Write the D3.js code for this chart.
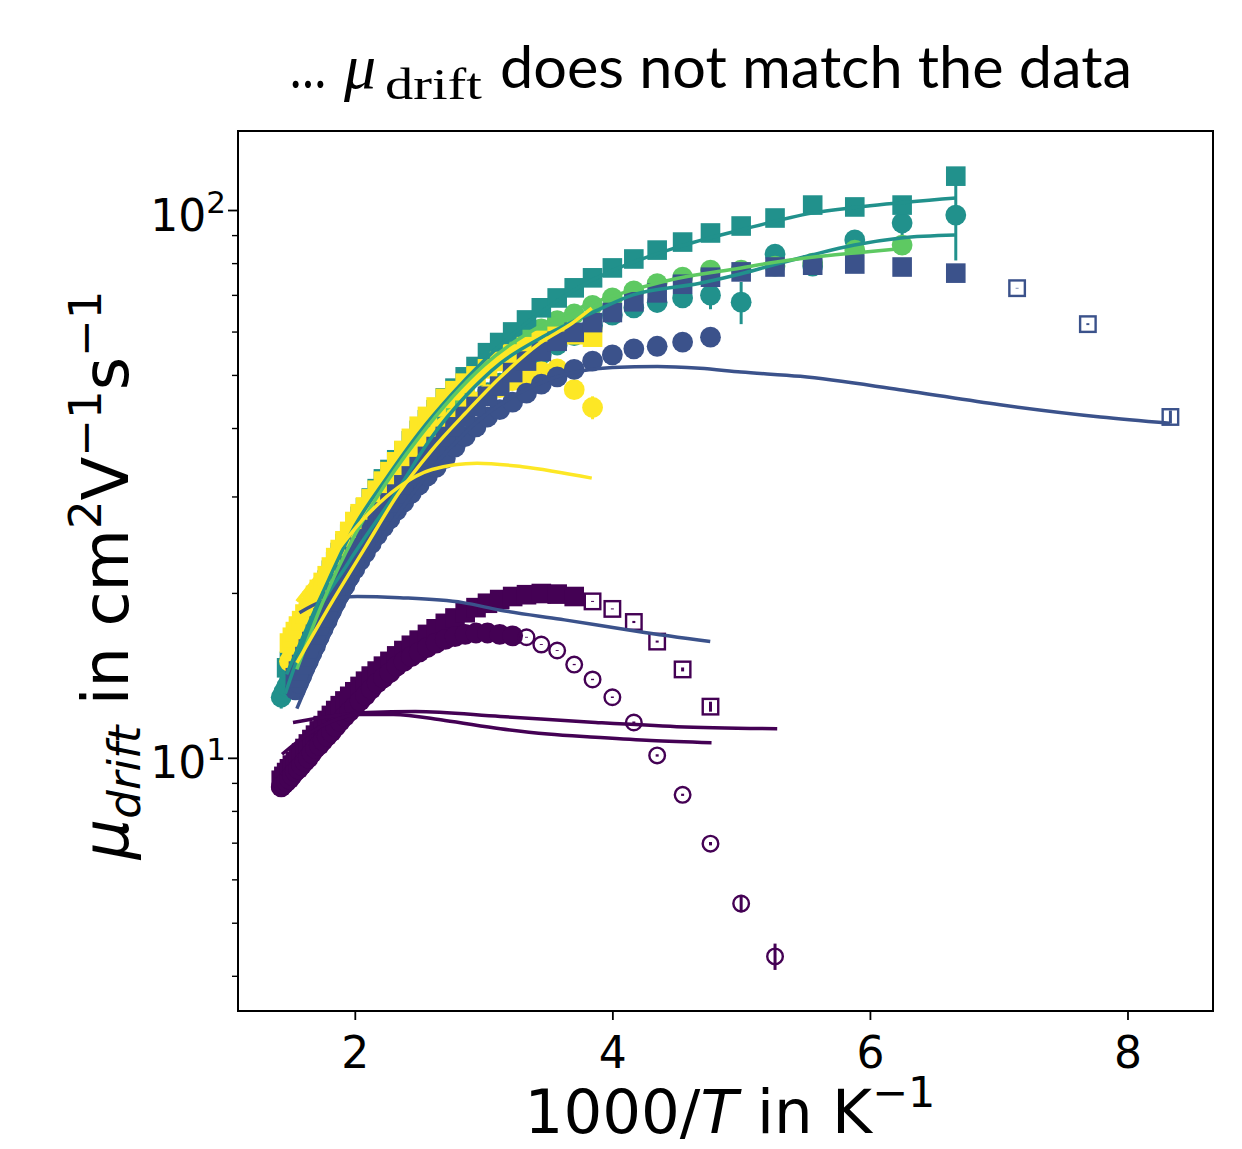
<!DOCTYPE html>
<html>
<head lang="en">
  <meta charset="UTF-8">
  <title>mu drift vs 1000/T</title>
  <script src="https://cdnjs.cloudflare.com/ajax/libs/d3/7.8.5/d3.min.js"></script>
</head>
<style>
  body { margin: 0; background: #fff; }
  #chart text { font-family: "DejaVu Sans", sans-serif; fill: #000; }
  #chart .tick line { stroke: #000; }
</style>
<body>

<svg id="chart" width="1242" height="1149"></svg>

<script>
  // temperatures in K, mobility in cm2/Vs
  var purpleSqT = [700,690,680,670,660,650,640,630,620,610,600,590,580,570,560,550,540,530,520,510,500,490,480,470,460,450,440,430,420,410,400,390,380,370,360,350,340,330,320,310,300,290,280,270];
  var purpleSqMu = [9.1,9.25,9.4,9.55,9.7,9.85,10.05,10.2,10.4,10.6,10.8,11.0,11.2,11.45,11.7,11.95,12.2,12.45,12.7,12.95,13.2,13.5,13.8,14.1,14.4,14.7,15.0,15.35,15.7,16.05,16.4,16.8,17.2,17.6,18.0,18.4,18.8,19.15,19.45,19.7,19.85,19.95,19.9,19.7];
  var purpleSqOpenT = [260,250,240,230,220,210];
  var purpleSqOpenMu = [19.3,18.7,17.7,16.3,14.5,12.4];
  var purpleSqOpenErr = [0.04,0.04,0.08,0.07,0.12,0.26];

  var purpleCircT = [700,690,680,670,660,650,640,630,620,610,600,590,580,570,560,550,540,530,520,510,500,490,480,470,460,450,440,430,420,410,400,390,380,370,360,350,340,330,320,310];
  var purpleCircMu = [8.85,8.95,9.05,9.15,9.3,9.45,9.55,9.7,9.85,10.0,10.2,10.4,10.55,10.75,10.95,11.15,11.4,11.65,11.9,12.15,12.4,12.7,13.0,13.35,13.7,14.0,14.3,14.7,15.0,15.3,15.6,15.9,16.2,16.45,16.65,16.8,16.9,16.9,16.8,16.7];
  var purpleCircOpenT = [300,290,280,270,260,250,240,230,220,210,200,190];
  var purpleCircOpenMu = [16.6,16.1,15.7,14.8,13.9,12.9,11.6,10.1,8.56,6.97,5.42,4.34];
  var purpleCircOpenErr = [0.03,0.03,0.03,0.04,0.04,0.04,0.05,0.05,0.04,0.05,0.2,0.24];

  var blueCircT = [650,640,630,620,610,600,590,580,570,560,550,540,530,520,510,500,490,480,470,460,450,440,430,420,410,400,390,380,370,360,350,340,330,320,310,300,290,280,270,260,250,240,230,220,210];
  var blueCircMu = [13.3,13.7,14.1,14.6,15.0,15.5,16.0,16.6,17.2,17.8,18.5,19.2,19.9,20.6,21.4,22.1,22.9,23.7,24.6,25.5,26.4,27.3,28.3,29.3,30.4,31.5,32.7,33.9,35.2,36.9,38.6,40.2,41.9,43.2,44.6,46.3,48.1,49.6,51.2,53.0,54.4,55.8,56.4,57.4,58.6];

  var blueSqT = [650,640,630,620,610,600,590,580,570,560,550,540,530,520,510,500,490,480,470,460,450,440,430,420,410,400,390,380,370,360,350,340,330,320,310,300,290,280,270,260,250,240,230,220,210,200,190,180,170,160,150];
  var blueSqMu = [14.0,14.4,14.8,15.3,15.8,16.3,16.8,17.4,18.0,18.6,19.3,20.0,20.8,21.6,22.4,23.3,24.2,25.1,26.1,27.1,28.1,29.2,30.3,31.5,32.7,34.0,35.5,37.0,38.6,40.2,42.0,43.8,45.7,47.7,50.5,53.0,55.2,57.6,59.8,62.3,65.0,68.0,70.6,73.2,75.4,77.1,78.7,79.3,79.7,78.7,76.7];
  var blueSqOpenT = [140,130,120];
  var blueSqOpenMu = [72.0,61.9,41.9];
  var blueSqOpenErr = [0.1,0.25,1.15];

  var tealSqT = [680,670,660,650,640,630,620,610,600,590,580,570,560,550,540,530,520,510,500,490,480,470,460,450,440,430,420,410,400,390,380,370,360,350,340,330,320,310,300,290,280,270,260,250,240,230,220,210,200,190,180,170,160,150];
  var tealSqMu = [14.6,15.0,15.4,15.8,16.3,16.8,17.3,17.8,18.4,19.0,19.6,20.3,21.1,22.0,22.8,23.7,24.6,25.6,26.6,27.6,28.6,29.8,31.0,32.3,33.6,35.0,36.3,37.9,39.6,41.4,43.2,45.4,47.3,49.6,51.8,54.9,57.3,59.9,63.0,66.3,69.1,72.1,75.2,78.4,81.4,84.5,87.4,90.8,93.5,96.7,102.1,101.3,102.1,115.3];

  var tealCircT = [700,690,680,670,660,650,640,630,620,610,600,590,580,570,560,550,540,530,520,510,500,490,480,470,460,450,440,430,420,410,400,390,380,370,360,350,340,330,320,310,300,290,280,270,260,250,240,230,220,210,200,190,180,170,160,150];
  var tealCircMu = [12.9,13.2,13.5,13.9,14.3,14.7,15.1,15.6,16.1,16.6,17.1,17.7,18.3,18.9,19.5,20.2,20.9,21.7,22.5,23.3,24.2,25.1,26.0,27.0,28.0,29.1,30.2,31.4,32.6,33.9,35.2,36.6,38.1,39.6,41.2,42.9,44.6,46.4,48.3,50.3,52.3,54.5,56.7,59.0,61.5,64.3,66.3,67.8,69.1,69.9,67.9,83.1,79.0,88.2,94.7,97.9];
  var tealCircErrT = [700,210,200,160,150];
  var tealCircErr = [0.6,4.0,6.0,5.0,17.0];

  var greenCircT = [650,640,630,620,610,600,590,580,570,560,550,540,530,520,510,500,490,480,470,460,450,440,430,420,410,400,390,380,370,360,350,340,330,320,310,300,290,280,270,260,250,240,230,220,210,200,190,180,170,160];
  var greenCircMu = [15.2,15.7,16.2,16.8,17.4,18.0,18.6,19.3,20.0,20.7,21.5,22.3,23.1,24.0,24.9,25.9,26.9,27.9,29.0,30.1,31.3,32.6,33.9,35.3,36.8,38.4,40.0,41.8,43.7,45.8,48.0,50.5,53.0,55.5,57.5,59.1,60.7,62.8,64.6,67.0,69.1,71.2,73.4,75.4,77.7,77.7,79.0,80.0,84.5,86.3];

  var yellowSqT = [670,660,650,640,630,620,610,600,590,580,570,560,550,540,530,520,510,500,490,480,470,460,450,440,430,420,410,400,390,380,370,360,350,340,330,320,310,300,290,280,270,260];
  var yellowSqMu = [16.2,16.6,17.0,17.4,17.8,18.3,18.8,19.3,19.8,20.3,20.9,21.5,22.3,23.2,24.0,24.9,25.9,27.0,27.9,28.7,29.7,30.8,32.0,33.3,34.7,36.4,38.3,40.3,42.0,43.7,45.3,46.8,48.3,49.8,51.3,52.9,54.6,56.3,57.8,58.8,59.2,58.6];

  var yellowCircT = [670,660,650,640,630,620,610,600,590,580,570,560,550,540,530,520,510,500,490,480,470,460,450,440,430,420,410,400,390,380,370,360,350,340,330,320,310,300,290,280,270,260];
  var yellowCircMu = [15.0,15.4,15.8,16.2,16.6,17.1,17.6,18.1,18.6,19.2,19.8,20.4,21.1,21.8,22.6,23.4,24.2,25.1,26.0,27.0,28.0,29.0,30.1,31.2,32.4,33.6,34.9,36.2,37.5,38.9,40.3,41.8,43.2,44.6,46.0,47.4,48.8,50.0,50.7,51.3,47.0,43.6];
  var yellowCircErrT = [260];
  var yellowCircErr = [2.1];

  // model curves: x is 1000/T
  var fitTealSqX = [1.47,1.75,2.0,2.25,2.5,2.75,3.0,3.25,3.5,3.75,4.0,4.5,5.0,5.55,6.0,6.67];
  var fitTealSqMu = [14.2,20.0,26.5,32.5,39.2,46.0,53.0,60.0,66.5,72.5,77.5,85.5,92.0,98.7,101.8,105.2];
  var fitTealCircX = [1.46,1.64,1.95,2.34,2.58,2.87,3.13,3.46,3.84,4.16,4.68,5.0,5.26,5.55,5.88,6.24,6.66];
  var fitTealCircMu = [13.1,17.1,22.7,31.0,38.0,46.0,52.5,58.7,64.9,70.0,73.5,76.5,79.5,82.8,86.3,88.9,90.0];
  var fitGreenX = [1.55,1.75,2.0,2.16,2.5,3.0,3.5,3.84,4.16,4.5,5.0,5.26,5.55,5.88,6.24];
  var fitGreenMu = [14.5,19.2,25.5,29.6,38.5,52.0,62.5,67.6,71.5,75.0,78.4,80.3,82.0,83.5,85.0];
  var fitYellowAX = [1.55,1.82,2.08,2.34,2.6,2.86,3.13,3.44,3.69,3.84];
  var fitYellowAMu = [14.9,19.2,24.2,30.4,36.5,42.6,49.5,57.2,62.2,66.2];
  var fitYellowBX = [1.55,1.82,2.08,2.34,2.6,2.95,3.3,3.84];
  var fitYellowBMu = [19.3,23.2,27.5,31.2,33.6,34.5,34.0,32.4];
  var fitBlueAX = [1.55,1.75,2.0,2.25,2.5,2.75,3.0,3.25,3.5,3.75,4.0,4.35,4.68,5.0,5.46,6.23,7.01,7.79,8.33];
  var fitBlueAMu = [12.3,15.8,20.8,26.0,31.5,37.0,42.0,46.0,49.0,50.8,51.6,51.8,51.4,50.6,49.7,47.0,44.1,41.9,40.8];
  var fitBlueBX = [1.57,1.75,2.02,2.35,2.84,3.13,3.6,3.87,4.2,4.76];
  var fitBlueBMu = [18.4,19.3,19.7,19.6,19.2,18.6,17.9,17.5,17.0,16.3];
  var fitPurpleAX = [1.52,1.8,2.1,2.47,3.13,3.87,4.5,5.28];
  var fitPurpleAMu = [11.6,11.9,12.1,12.15,11.9,11.6,11.4,11.3];
  var fitPurpleBX = [1.435,1.6,1.8,2.03,2.3,2.7,3.13,3.5,3.87,4.3,4.77];
  var fitPurpleBMu = [10.15,10.9,11.6,12.0,12.0,11.7,11.3,11.05,10.9,10.75,10.65];

  var xTicks = [2, 4, 6, 8];
  var yMajor = [10, 100];
  var yMinor = [4, 5, 6, 7, 8, 9, 20, 30, 40, 50, 60, 70, 80, 90];

  var purple = '#440154', blue = '#3b528b', teal = '#21918c', green = '#5ec962', yellow = '#fde725';

  var margin = { left: 238, top: 131, right: 1213, bottom: 1011 };
  var x = d3.scaleLinear().domain([1.093, 8.664]).range([margin.left, margin.right]);
  var y = d3.scaleLog().domain([3.45, 139.4]).range([margin.bottom, margin.top]);

  var svg = d3.select('#chart');
  var plot = svg.append('g');

  function inv(t) { return 1000 / t; }

  function errorBars(temps, mus, errs, color) {
    var rows = temps.map(function (t, i) { return { t: t, mu: mus[i], e: errs[i] }; });
    plot.append('g').selectAll('line').data(rows).enter().append('line')
      .attr('x1', function (d) { return x(inv(d.t)); })
      .attr('x2', function (d) { return x(inv(d.t)); })
      .attr('y1', function (d) { return y(d.mu - d.e); })
      .attr('y2', function (d) { return y(d.mu + d.e); })
      .attr('stroke', color).attr('stroke-width', 3);
  }

  function markers(temps, mus, shape, color, open) {
    var rows = temps.map(function (t, i) { return { t: t, mu: mus[i] }; });
    var g = plot.append('g');
    if (shape === 'circle') {
      g.selectAll('circle').data(rows).enter().append('circle')
        .attr('cx', function (d) { return x(inv(d.t)); })
        .attr('cy', function (d) { return y(d.mu); })
        .attr('r', open ? 7.8 : 10.4);
    } else {
      var s = open ? 15.5 : 19.6;
      g.selectAll('rect').data(rows).enter().append('rect')
        .attr('x', function (d) { return x(inv(d.t)) - s / 2; })
        .attr('y', function (d) { return y(d.mu) - s / 2; })
        .attr('width', s).attr('height', s);
    }
    g.selectAll('*')
      .attr('fill', open ? 'none' : color)
      .attr('stroke', open ? color : 'none')
      .attr('stroke-width', 2.4);
  }

  function fitLine(xs, mus, color) {
    var pts = xs.map(function (v, i) { return [v, mus[i]]; });
    var line = d3.line()
      .x(function (d) { return x(d[0]); })
      .y(function (d) { return y(d[1]); })
      .curve(d3.curveMonotoneX);
    plot.append('path').datum(pts)
      .attr('d', line)
      .attr('fill', 'none')
      .attr('stroke', color)
      .attr('stroke-width', 3.5);
  }

  // filled markers
  markers(purpleSqT, purpleSqMu, 'square', purple, false);
  markers(purpleCircT, purpleCircMu, 'circle', purple, false);
  errorBars(tealCircErrT, tealCircErrT.map(function (t) { return tealCircMu[tealCircT.indexOf(t)]; }), tealCircErr, teal);
  markers(tealCircT, tealCircMu, 'circle', teal, false);
  markers(greenCircT, greenCircMu, 'circle', green, false);
  markers(tealSqT, tealSqMu, 'square', teal, false);
  errorBars(yellowCircErrT, yellowCircErrT.map(function (t) { return yellowCircMu[yellowCircT.indexOf(t)]; }), yellowCircErr, yellow);
  markers(yellowCircT, yellowCircMu, 'circle', yellow, false);
  markers(yellowSqT, yellowSqMu, 'square', yellow, false);
  markers(blueCircT, blueCircMu, 'circle', blue, false);
  markers(blueSqT, blueSqMu, 'square', blue, false);

  // open markers
  markers(purpleSqOpenT, purpleSqOpenMu, 'square', purple, true);
  errorBars(purpleSqOpenT, purpleSqOpenMu, purpleSqOpenErr, purple);
  markers(purpleCircOpenT, purpleCircOpenMu, 'circle', purple, true);
  errorBars(purpleCircOpenT, purpleCircOpenMu, purpleCircOpenErr, purple);
  markers(blueSqOpenT, blueSqOpenMu, 'square', blue, true);
  errorBars(blueSqOpenT, blueSqOpenMu, blueSqOpenErr, blue);

  // model curves
  fitLine(fitPurpleAX, fitPurpleAMu, purple);
  fitLine(fitPurpleBX, fitPurpleBMu, purple);
  fitLine(fitBlueAX, fitBlueAMu, blue);
  fitLine(fitBlueBX, fitBlueBMu, blue);
  fitLine(fitTealSqX, fitTealSqMu, teal);
  fitLine(fitTealCircX, fitTealCircMu, teal);
  fitLine(fitGreenX, fitGreenMu, green);
  fitLine(fitYellowAX, fitYellowAMu, yellow);
  fitLine(fitYellowBX, fitYellowBMu, yellow);

  // axes
  var xAxis = svg.append('g')
    .attr('transform', 'translate(0,' + margin.bottom + ')')
    .call(d3.axisBottom(x).tickValues(xTicks).tickSize(9).tickFormat(d3.format('d')));
  xAxis.select('.domain').remove();
  xAxis.selectAll('.tick line').attr('stroke-width', 1.8);
  xAxis.selectAll('.tick text').attr('y', 57).attr('dy', 0).style('font-size', '44px');

  var yMinorAxis = svg.append('g')
    .attr('transform', 'translate(' + margin.left + ',0)')
    .call(d3.axisLeft(y).tickValues(yMinor).tickSize(6).tickFormat(''));
  yMinorAxis.select('.domain').remove();
  yMinorAxis.selectAll('.tick line').attr('stroke-width', 1.4);

  var yAxis = svg.append('g')
    .attr('transform', 'translate(' + margin.left + ',0)')
    .call(d3.axisLeft(y).tickValues(yMajor).tickSize(10).tickFormat(''));
  yAxis.select('.domain').remove();
  yAxis.selectAll('.tick line').attr('stroke-width', 1.8);
  yAxis.selectAll('.tick').append('text')
    .attr('x', -12).attr('y', 20)
    .attr('text-anchor', 'end')
    .style('font-size', '44px')
    .each(function (d) {
      var t = d3.select(this);
      t.append('tspan').text('10');
      t.append('tspan').attr('dy', -18).style('font-size', '31px').text(String(Math.round(Math.log10(d))));
    });

  // frame
  svg.append('rect')
    .attr('x', margin.left).attr('y', margin.top)
    .attr('width', margin.right - margin.left).attr('height', margin.bottom - margin.top)
    .attr('fill', 'none').attr('stroke', '#000').attr('stroke-width', 2);

  // axis titles
  var xl = svg.append('text')
    .attr('x', 730).attr('y', 1133)
    .attr('text-anchor', 'middle')
    .style('font-size', '61px');
  xl.append('tspan').text('1000/');
  xl.append('tspan').style('font-style', 'italic').text('T');
  xl.append('tspan').text(' in K');
  xl.append('tspan').attr('dy', -26).style('font-size', '43px').text('\u22121');

  var yl = svg.append('text')
    .attr('transform', 'translate(128,575) rotate(-90)')
    .attr('text-anchor', 'middle')
    .style('font-size', '64px');
  yl.append('tspan').style('font-style', 'italic').text('\u03bc');
  yl.append('tspan').attr('dy', 12).style('font-style', 'italic').style('font-size', '45px').text('drift');
  yl.append('tspan').attr('dy', -12).text(' in cm');
  yl.append('tspan').attr('dy', -27).style('font-size', '45px').text('2');
  yl.append('tspan').attr('dy', 27).text('V');
  yl.append('tspan').attr('dy', -27).style('font-size', '45px').text('\u22121');
  yl.append('tspan').attr('dy', 27).text('s');
  yl.append('tspan').attr('dy', -27).style('font-size', '45px').text('\u22121');

  // slide title
  svg.append('text').attr('x', 290).attr('y', 88)
    .attr('textLength', 36).attr('lengthAdjust', 'spacingAndGlyphs')
    .style('font-family', 'Lato, "Open Sans", sans-serif').style('font-size', '58px')
    .text('\u2026');
  svg.append('text').attr('x', 344).attr('y', 88)
    .style('font-family', '"Liberation Serif", "DejaVu Serif", serif').style('font-style', 'italic').style('font-size', '64px')
    .text('\u03bc');
  svg.append('text').attr('x', 385).attr('y', 99)
    .attr('textLength', 97).attr('lengthAdjust', 'spacingAndGlyphs')
    .style('font-family', '"Liberation Serif", "DejaVu Serif", serif').style('font-size', '44px')
    .text('drift');
  svg.append('text').attr('x', 500).attr('y', 88)
    .attr('textLength', 632).attr('lengthAdjust', 'spacingAndGlyphs')
    .style('font-family', 'Lato, "Open Sans", sans-serif').style('font-size', '58px')
    .text('does not match the data');
</script>
</body>
</html>
